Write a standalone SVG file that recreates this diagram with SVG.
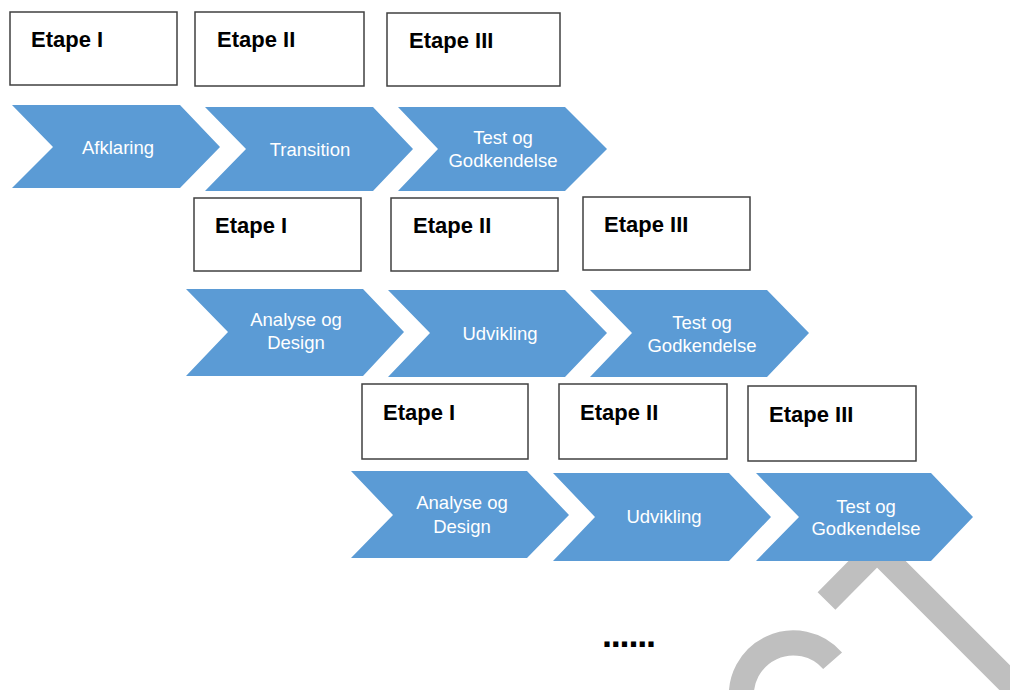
<svg xmlns="http://www.w3.org/2000/svg" width="1010" height="690" viewBox="0 0 1010 690">
  <style>
    .box { fill: #ffffff; stroke: #404040; stroke-width: 1.5; }
    .lbl { font-family: "Liberation Sans", Arial, sans-serif; font-weight: bold; font-size: 22px; fill: #000000; }
    .chev { fill: #5B9BD5; }
    .ctxt { font-family: "Liberation Sans", Arial, sans-serif; font-size: 18.5px; fill: #ffffff; text-anchor: middle; }
    .mark { fill: none; stroke: #BFBFBF; stroke-width: 25; stroke-linecap: butt; stroke-linejoin: miter; }
    .dots { font-family: "Liberation Sans", Arial, sans-serif; font-weight: bold; font-size: 36px; letter-spacing: -1.2px; fill: #000000; }
  </style>

  <rect width="1010" height="690" fill="#ffffff"/>

  <!-- light grey background strokes -->
  <g id="watermark">
    <polyline class="mark" points="826.5,601 877,550 1040,713"/>
    <path class="mark" d="M 742 703 A 52 52 0 0 1 832.6 660.8"/>
  </g>

  <!-- row 1 -->
  <g id="r1-etape1"><rect class="box" x="10" y="12" width="167" height="73"/><text class="lbl" x="31" y="47">Etape I</text></g>
  <g id="r1-etape2"><rect class="box" x="195" y="12" width="169" height="74"/><text class="lbl" x="217" y="47">Etape II</text></g>
  <g id="r1-etape3"><rect class="box" x="387" y="13" width="173" height="73"/><text class="lbl" x="409" y="48">Etape III</text></g>

  <g id="r1-afklaring"><polygon class="chev" points="12,105 180,105 220,147 180,188 12,188 53,147"/><text class="ctxt" x="118" y="154">Afklaring</text></g>
  <g id="r1-transition"><polygon class="chev" points="205,107 373,107 413,149 373,191 205,191 246,149"/><text class="ctxt" x="310" y="156">Transition</text></g>
  <g id="r1-test"><polygon class="chev" points="398,107 565,107 607,149 565,191 398,191 438,149"/><text class="ctxt" x="503" y="144">Test og</text><text class="ctxt" x="503" y="167">Godkendelse</text></g>

  <!-- row 2 -->
  <g id="r2-etape1"><rect class="box" x="194" y="198" width="167" height="73"/><text class="lbl" x="215" y="233">Etape I</text></g>
  <g id="r2-etape2"><rect class="box" x="391" y="198" width="167" height="73"/><text class="lbl" x="413" y="233">Etape II</text></g>
  <g id="r2-etape3"><rect class="box" x="583" y="197" width="167" height="73"/><text class="lbl" x="604" y="232">Etape III</text></g>

  <g id="r2-analyse"><polygon class="chev" points="186,289 363,289 404,332 363,376 186,376 228,332"/><text class="ctxt" x="296" y="326">Analyse og</text><text class="ctxt" x="296" y="349">Design</text></g>
  <g id="r2-udvikling"><polygon class="chev" points="388,290 565,290 607,333 565,377 388,377 430,333"/><text class="ctxt" x="500" y="340">Udvikling</text></g>
  <g id="r2-test"><polygon class="chev" points="590,290 767,290 809,333 767,377 590,377 632,333"/><text class="ctxt" x="702" y="329">Test og</text><text class="ctxt" x="702" y="352">Godkendelse</text></g>

  <!-- row 3 -->
  <g id="r3-etape1"><rect class="box" x="362" y="384" width="166" height="75"/><text class="lbl" x="383" y="420">Etape I</text></g>
  <g id="r3-etape2"><rect class="box" x="559" y="384" width="168" height="75"/><text class="lbl" x="580" y="420">Etape II</text></g>
  <g id="r3-etape3"><rect class="box" x="748" y="386" width="168" height="75"/><text class="lbl" x="769" y="422">Etape III</text></g>

  <g id="r3-analyse"><polygon class="chev" points="351,471 527,471 569,515 527,558 351,558 393,515"/><text class="ctxt" x="462" y="509">Analyse og</text><text class="ctxt" x="462" y="533">Design</text></g>
  <g id="r3-udvikling"><polygon class="chev" points="553,473 729,473 771,517 729,561 553,561 595,517"/><text class="ctxt" x="664" y="523">Udvikling</text></g>
  <g id="r3-test"><polygon class="chev" points="756,473 931,473 973,517 931,561 756,561 799,517"/><text class="ctxt" x="866" y="513">Test og</text><text class="ctxt" x="866" y="535">Godkendelse</text></g>

  <!-- continuation -->
  <text class="dots" x="602" y="647">......</text>
</svg>
